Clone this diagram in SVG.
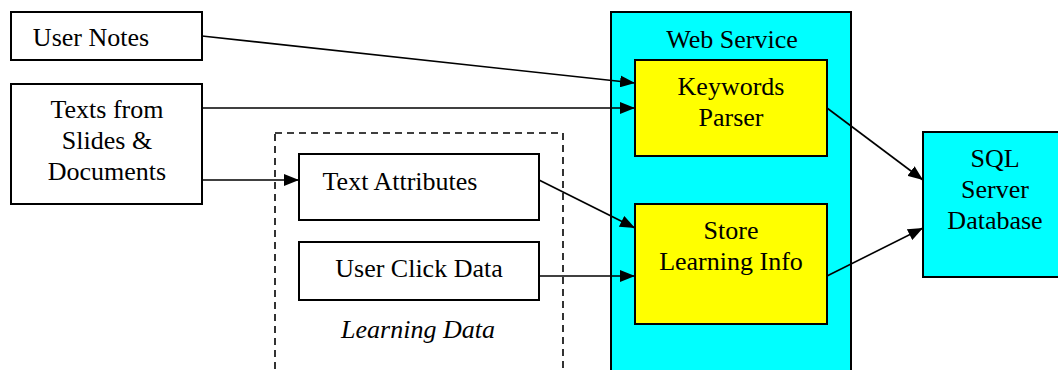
<svg xmlns="http://www.w3.org/2000/svg" width="1058" height="370" viewBox="0 0 1058 370">
<style>
.box{fill:#fff;stroke:#000;stroke-width:2}
.cyan{fill:#00ffff;stroke:#000;stroke-width:2}
.yel{fill:#ffff00;stroke:#000;stroke-width:2}
.dash{fill:none;stroke:#000;stroke-width:1.6;stroke-dasharray:7,5}
text{font-family:"Liberation Serif","Times New Roman",serif;font-size:26px;fill:#000;text-anchor:middle}
.conn line{stroke:#000;stroke-width:1.6;marker-end:url(#ah)}
</style>
<defs>
<marker id="ah" markerWidth="15" markerHeight="12" refX="15" refY="6" orient="auto" markerUnits="userSpaceOnUse">
<path d="M0,0 L15,6 L0,12 Z" fill="#000"/>
</marker>
</defs>
<rect width="1058" height="370" fill="#fff"/>
<g id="learning-data">
<rect class="dash" x="275" y="133" width="288" height="250"/>
<text x="418" y="338" font-style="italic">Learning Data</text>
</g>
<g id="web-service">
<rect class="cyan" x="611" y="12" width="240" height="370"/>
<text x="732" y="48">Web Service</text>
</g>
<g id="user-notes">
<rect class="box" x="11" y="12" width="191" height="48"/>
<text x="91" y="46">User Notes</text>
</g>
<g id="texts">
<rect class="box" x="11" y="84" width="191" height="120"/>
<text x="107" y="118">Texts from</text>
<text x="107" y="149">Slides &amp;</text>
<text x="107" y="180">Documents</text>
</g>
<g id="text-attributes">
<rect class="box" x="299" y="154" width="240" height="66"/>
<text x="400" y="190">Text Attributes</text>
</g>
<g id="user-click-data">
<rect class="box" x="299" y="242" width="240" height="58"/>
<text x="419" y="277">User Click Data</text>
</g>
<g id="keywords-parser">
<rect class="yel" x="635" y="60" width="192" height="96"/>
<text x="731" y="95">Keywords</text>
<text x="731" y="126">Parser</text>
</g>
<g id="store-learning-info">
<rect class="yel" x="635" y="204" width="192" height="120"/>
<text x="731" y="239">Store</text>
<text x="731" y="270">Learning Info</text>
</g>
<g id="sql-server">
<rect class="cyan" x="923" y="132" width="140" height="145"/>
<text x="995" y="167">SQL</text>
<text x="995" y="198">Server</text>
<text x="995" y="229">Database</text>
</g>
<g id="connectors" class="conn">
<line x1="202" y1="36" x2="635" y2="83"/>
<line x1="202" y1="108" x2="635" y2="108"/>
<line x1="202" y1="180" x2="299" y2="180"/>
<line x1="539" y1="180" x2="635" y2="228"/>
<line x1="539" y1="276" x2="635" y2="276"/>
<line x1="827" y1="108" x2="923" y2="180"/>
<line x1="827" y1="276" x2="923" y2="228"/>
</g>
</svg>
